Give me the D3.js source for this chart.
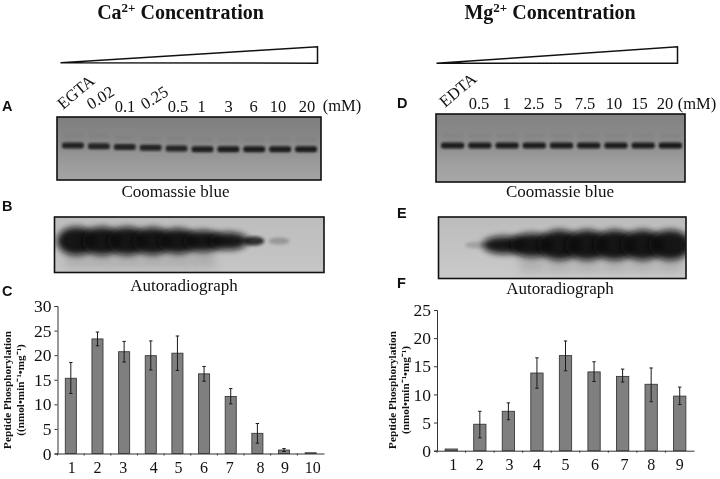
<!DOCTYPE html>
<html><head><meta charset="utf-8">
<script src="https://cdnjs.cloudflare.com/ajax/libs/d3/7.8.5/d3.min.js"></script>
<style>
html,body{margin:0;padding:0;background:#fff}
svg{display:block;filter:blur(0.3px)}
text{font-family:"Liberation Serif",serif;fill:#111}
.letter{font-family:"Liberation Sans",sans-serif;font-weight:700;font-size:14.5px}
.title{font-weight:700;font-size:20px}
.lane{font-size:16.5px}
.cap{font-size:17px}
.ytitle{font-weight:700;font-size:11.2px}
.axis path,.axis line{stroke:#333;stroke-width:1}
</style></head><body>
<svg id="c" width="720" height="479"></svg>
<script>
// Panel C: calcium series
const caLanes = ["1","2","3","4","5","6","7","8","9","10"];
const caValues = [15.3,23.3,20.7,19.9,20.4,16.2,11.6,4.1,0.7,0.15];
const caHigh = [18.5,24.7,22.8,22.9,23.9,17.7,13.2,6.1,1.0,null];
const caLow = [12.2,21.9,18.6,17.0,16.9,14.7,10.1,2.1,0.4,null];
const caTicks = [0,5,10,15,20,25,30];
// Panel F: magnesium series
const mgLanes = ["1","2","3","4","5","6","7","8","9"];
const mgValues = [0.3,4.7,7.0,13.8,16.9,14.0,13.2,11.8,9.7];
const mgHigh = [null,7.0,8.5,16.5,19.5,15.8,14.5,14.7,11.3];
const mgLow = [null,2.3,5.5,11.1,14.2,12.3,12.2,8.7,8.2];
const mgTicks = [0,5,10,15,20,25];
// Gel band strengths
const coomassieA = [0.9,0.88,0.88,0.88,0.88,0.92,0.94,0.94,0.94,0.94];
const coomassieD = [0.94,0.94,0.94,0.94,0.94,0.94,0.94,0.94,0.96];
const autoB = [1,1,1,0.97,0.92,0.82,0.72,0.5,0.16,0];
const autoE = [0,0.12,0.7,0.85,1,1,1,1,1];
// Concentration labels
const caConc = ["EGTA","0.02","0.1","0.25","0.5","1","3","6","10","20"];
const mgConc = ["EDTA","0.5","1","2.5","5","7.5","10","15","20"];

const svg = d3.select("#c");
const defs = svg.append("defs");
[["b1",1.1],["b15",1.8],["b3",3.2],["b5",5]].forEach(([id,s])=>{
  defs.append("filter").attr("id",id).attr("x","-60%").attr("y","-150%").attr("width","220%").attr("height","400%")
    .append("feGaussianBlur").attr("stdDeviation",s);
});
function grad(id,stops){
  const g=defs.append("linearGradient").attr("id",id).attr("x1",0).attr("y1",0).attr("x2",0).attr("y2",1);
  stops.forEach(([o,c])=>g.append("stop").attr("offset",o).attr("stop-color",c));
}
grad("gelA",[[0,"#7e7e7e"],[0.4,"#8a8a8a"],[0.75,"#9c9c9c"],[1,"#a4a4a4"]]);
grad("gelD",[[0,"#828282"],[0.4,"#8c8c8c"],[0.75,"#a0a0a0"],[1,"#a8a8a8"]]);
grad("gelB",[[0,"#bdbdbd"],[1,"#c6c6c6"]]);
grad("gelE",[[0,"#bcbcbc"],[1,"#cacaca"]]);

// Titles
function title(cx,a){
  const t=svg.append("text").attr("class","title").attr("x",cx).attr("y",19).attr("text-anchor","middle");
  t.append("tspan").text(a);
  t.append("tspan").attr("dy",-7).attr("font-size",13).text("2+");
  t.append("tspan").attr("dy",7).text(" Concentration");
}
title(180.5,"Ca"); title(550,"Mg");

// Wedges
const wedge=d3.line();
svg.append("path").attr("d",wedge([[60.5,62.8],[317.5,46.8],[317.5,63.2]])+"Z").attr("fill","#fff").attr("stroke","#111").attr("stroke-width",1.5);
svg.append("path").attr("d",wedge([[436.5,63.2],[677.5,46.8],[677.5,63.2]])+"Z").attr("fill","#fff").attr("stroke","#111").attr("stroke-width",1.5);

// Panel letters
[["A",2,111],["B",2,211],["C",2,296],["D",397,108],["E",397,218],["F",397,288]].forEach(([s,x,y])=>
  svg.append("text").attr("class","letter").attr("x",x).attr("y",y).text(s));

// Concentration labels
function laneLabels(names,xs,y){
  names.forEach((n,i)=>{
    const p=xs[i];
    if(p.r) svg.append("text").attr("class","lane").attr("transform",`translate(${p.x},${p.y}) rotate(${p.r})`).text(n);
    else svg.append("text").attr("class","lane").attr("x",p.x).attr("y",y).attr("text-anchor","middle").text(n);
  });
}
laneLabels(caConc,[{x:63,y:110,r:-40},{x:91,y:110,r:-32},{x:125},{x:145,y:110,r:-32},{x:178},{x:201.5},{x:228.5},{x:253.5},{x:278},{x:307}],111.5);
laneLabels(mgConc,[{x:445,y:108,r:-40},{x:479},{x:506.5},{x:534},{x:558},{x:585},{x:614},{x:639.5},{x:665}],109);
svg.append("text").attr("class","lane").attr("x",342).attr("y",111).attr("text-anchor","middle").text("(mM)");
svg.append("text").attr("class","lane").attr("x",697).attr("y",109).attr("text-anchor","middle").text("(mM)");

// Coomassie gels
function coomassie(box,vals,fill,yTilt){
  const g=svg.append("g");
  g.append("rect").attr("x",box.x0).attr("y",box.y0).attr("width",box.x1-box.x0).attr("height",box.y1-box.y0).attr("fill",`url(#${fill})`);
  const x=d3.scaleBand().domain(d3.range(vals.length)).range([box.l0,box.l1]);
  const lanes=g.selectAll(".l").data(vals).join("g");
  lanes.append("rect").attr("x",(d,i)=>x(i)+3).attr("y",(d,i)=>yTilt(i)-12).attr("width",x.bandwidth()-6).attr("height",5)
    .attr("fill","#666").attr("opacity",0.15).attr("filter","url(#b15)");
  lanes.append("rect").attr("x",(d,i)=>x(i)+2).attr("y",(d,i)=>yTilt(i)-3).attr("width",x.bandwidth()-4).attr("height",6)
    .attr("rx",2.5).attr("fill","#141414").attr("opacity",d=>d).attr("filter","url(#b1)");
  g.append("rect").attr("x",box.x0).attr("y",box.y0).attr("width",box.x1-box.x0).attr("height",box.y1-box.y0)
    .attr("fill","none").attr("stroke","#111").attr("stroke-width",1.6);
}
coomassie({x0:57,x1:321,y0:117,y1:180,l0:60,l1:319},coomassieA,"gelA",i=>145.5+Math.min(i,5)*0.75);
coomassie({x0:436,x1:685,y0:114,y1:182,l0:439,l1:684},coomassieD,"gelD",()=>145.5);

// Autoradiographs
function auto(box,vals,fill){
  const g=svg.append("g");
  g.append("rect").attr("x",box.x0).attr("y",box.y0).attr("width",box.x1-box.x0).attr("height",box.y1-box.y0).attr("fill",`url(#${fill})`);
  const clipId="clip"+fill;
  defs.append("clipPath").attr("id",clipId).append("rect").attr("x",box.x0).attr("y",box.y0).attr("width",box.x1-box.x0).attr("height",box.y1-box.y0);
  const x=d3.scaleBand().domain(d3.range(vals.length)).range([box.l0,box.l1]);
  const ry=d3.scaleLinear().domain([0,0.1,0.2,0.5,1]).range([0,3.5,3.5,4.5,box.ry]);
  const cx=i=>x(i)+x.bandwidth()/2;
  const inner=g.append("g").attr("clip-path",`url(#${clipId})`);
  inner.selectAll("rect.s").data(vals).join("rect").attr("class","s")
    .attr("x",(d,i)=>cx(i)-12).attr("width",24).attr("y",box.cy).attr("height",d=>d>0.8?27:0)
    .attr("fill","#777").attr("opacity",0.28).attr("filter","url(#b5)");
  inner.selectAll("ellipse.m").data(vals).join("ellipse").attr("class","m")
    .attr("cx",(d,i)=>cx(i)).attr("cy",box.cy).attr("rx",d=>x.bandwidth()*(d>0.6?0.78:0.42))
    .attr("ry",d=>ry(d)).attr("fill",d=>d<0.3?"#7c7c7c":"#0e0e0e").attr("opacity",d=>d>0.6?0.95:(d<0.3?d*3.8:0.8))
    .attr("filter",d=>d>0.6?"url(#b3)":"url(#b15)");
  g.append("rect").attr("x",box.x0).attr("y",box.y0).attr("width",box.x1-box.x0).attr("height",box.y1-box.y0)
    .attr("fill","none").attr("stroke","#111").attr("stroke-width",1.6);
}
auto({x0:54.5,x1:324,y0:217,y1:272.5,l0:64,l1:317,cy:241,ry:14},autoB,"gelB");
auto({x0:438.5,x1:686,y0:217,y1:278.5,l0:435,l1:684,cy:245,ry:15},autoE,"gelE");

// Captions
[["Coomassie blue",175.5,197],["Coomassie blue",560,197],["Autoradiograph",184,291],["Autoradiograph",560,294]].forEach(([s,x,y])=>
  svg.append("text").attr("class","cap").attr("x",x).attr("y",y).attr("text-anchor","middle").text(s));

// Bar charts
function barChart(o){
  const x=d3.scaleBand().domain(o.lanes).range([o.x0,o.x1]).paddingInner(o.pad).paddingOuter(o.pad/2);
  const y=d3.scaleLinear().domain([0,o.max]).range([o.y0,o.y1]);
  const g=svg.append("g");
  g.selectAll("rect.bar").data(o.values).join("rect").attr("class","bar")
    .attr("x",(d,i)=>x(o.lanes[i])).attr("y",d=>y(d)).attr("width",x.bandwidth()).attr("height",d=>o.y0-y(d))
    .attr("fill","#7f7f7f").attr("stroke","#3a3a3a").attr("stroke-width",0.9);
  const cx=i=>x(o.lanes[i])+x.bandwidth()/2;
  o.values.forEach((v,i)=>{
    if(o.high[i]==null) return;
    const e=g.append("g").attr("stroke","#1a1a1a").attr("stroke-width",1);
    e.append("line").attr("x1",cx(i)).attr("x2",cx(i)).attr("y1",y(o.high[i])).attr("y2",y(o.low[i]));
    [o.high[i],o.low[i]].forEach(w=>e.append("line").attr("x1",cx(i)-1.7).attr("x2",cx(i)+1.7).attr("y1",y(w)).attr("y2",y(w)));
  });
  const ya=g.append("g").attr("class","axis").attr("transform",`translate(${o.x0},0)`)
    .call(d3.axisLeft(y).tickValues(o.ticks).tickSize(3).tickPadding(3));
  ya.selectAll("text").attr("font-size",17.5).attr("fill","#111").attr("font-family","Liberation Serif");
  const xa=g.append("g").attr("class","axis").attr("transform",`translate(0,${o.y0})`)
    .call(d3.axisBottom(x).tickSizeOuter(0).tickSize(0).tickPadding(o.labelPad));
  xa.selectAll("text").attr("font-size",16).attr("fill","#111").attr("font-family","Liberation Serif")
    .attr("dx",(d,i)=>o.nudge(i));
  g.selectAll("line.sep").data(o.lanes).join("line").attr("class","sep")
    .attr("x1",d=>x(d)-x.step()*o.pad/2).attr("x2",d=>x(d)-x.step()*o.pad/2).attr("y1",o.y0).attr("y2",o.y0+2).attr("stroke","#333");
  o.ytitle.forEach(([s,tx])=>{
    svg.append("text").attr("class","ytitle").attr("transform",`translate(${tx},${o.ty}) rotate(-90)`).attr("text-anchor","middle").text(s);
  });
}
barChart({lanes:caLanes,values:caValues,high:caHigh,low:caLow,ticks:caTicks,max:30,x0:57.5,x1:324,y0:453.5,y1:306,pad:0.585,labelPad:8,
  nudge:i=>[1,0,-1,3,1,0,-1,3,1,2][i],ty:390,ytitle:[["Peptide Phosphorylation",11],["((nmol•min⁻¹•mg⁻¹)",24]]});
barChart({lanes:mgLanes,values:mgValues,high:mgHigh,low:mgLow,ticks:mgTicks,max:25,x0:437,x1:694,y0:450.7,y1:310,pad:0.57,labelPad:8,
  nudge:i=>[2,0,1,0,0,1,2,0,0][i],ty:390,ytitle:[["Peptide Phosphorylation",396],["(nmol•min⁻¹•mg⁻¹)",409]]});
</script>
</body></html>
